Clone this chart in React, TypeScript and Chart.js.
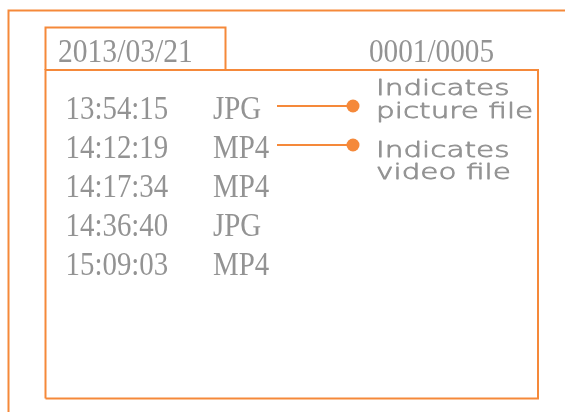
import React, { useEffect, useRef } from "react";
import { Chart, registerables } from "chart.js";

Chart.register(...registerables);

// ---- content ----
const dateLabel = "2013/03/21";
const counterLabel = "0001/0005";
const times = ["13:54:15", "14:12:19", "14:17:34", "14:36:40", "15:09:03"];
const fileTypes = ["JPG", "MP4", "MP4", "JPG", "MP4"];
const legendLines = [
  ["Indicates", "picture file"],
  ["Indicates", "video file"],
];
const legendRows = [0, 1]; // list row each legend points to

// ---- layout (scale units = screen units of the 565x412 frame) ----
const L = {
  outerLeft: 8.5,
  outerTop: 10.5,
  dateBox: { x0: 45.5, y0: 27.5, x1: 225.5, y1: 70 },
  listBox: { x0: 45.5, y0: 70, x1: 538, y1: 398.5 },
  headerBaseline: 62,
  dateX: 58,
  counterX: 369,
  timeX: 65.5,
  typeX: 213,
  rowBaseline0: 118.5,
  rowStep: 39,
  connectorOffset: -12.5,
  connectorX0: 277,
  connectorX1: 353,
  legendX: 376,
  legendBaselines: [
    [94.5, 118],
    [157, 179],
  ],
};

const ORANGE = "#F5893A";
const GRAY = "#939393";

const rowY = (i: number) => L.rowBaseline0 + i * L.rowStep;

export default function App() {
  const ref = useRef<HTMLCanvasElement | null>(null);

  useEffect(() => {
    if (!ref.current) return;

    const rect = (b: { x0: number; y0: number; x1: number; y1: number }) => [
      { x: b.x0, y: b.y1 },
      { x: b.x0, y: b.y0 },
      { x: b.x1, y: b.y0 },
      { x: b.x1, y: b.y1 },
      { x: b.x0, y: b.y1 },
    ];

    const frameDs = (data: { x: number; y: number }[]) => ({
      data,
      showLine: true,
      borderColor: ORANGE,
      borderWidth: 2,
      pointRadius: 0,
      fill: false,
      tension: 0,
    });

    const datasets: any[] = [
      frameDs([
        { x: L.outerLeft, y: 412 },
        { x: L.outerLeft, y: L.outerTop },
        { x: 565, y: L.outerTop },
      ]),
      frameDs(rect(L.dateBox).slice(0, 4)),
      frameDs(rect(L.listBox)),
      ...legendRows.map((r) => {
        const cy = rowY(r) + L.connectorOffset;
        return {
          data: [
            { x: L.connectorX0, y: cy },
            { x: L.connectorX1, y: cy },
          ],
          showLine: true,
          borderColor: ORANGE,
          borderWidth: 2,
          pointRadius: [0, 6.5],
          pointBackgroundColor: ORANGE,
          pointBorderColor: ORANGE,
          pointBorderWidth: 0,
        };
      }),
    ];

    const drawText = (
      ctx: CanvasRenderingContext2D,
      text: string,
      x: number,
      y: number,
      font: string,
      sx: number,
      strokeW = 0
    ) => {
      ctx.save();
      ctx.translate(x, y);
      ctx.scale(sx, 1);
      ctx.font = font;
      ctx.fillStyle = GRAY;
      ctx.textBaseline = "alphabetic";
      ctx.textAlign = "left";
      ctx.fillText(text, 0, 0);
      if (strokeW > 0) {
        ctx.strokeStyle = GRAY;
        ctx.lineWidth = strokeW;
        ctx.lineJoin = "round";
        ctx.strokeText(text, 0, 0);
      }
      ctx.restore();
    };

    const textPlugin = {
      id: "diagramText",
      afterDatasetsDraw(chart: any) {
        const ctx = chart.ctx as CanvasRenderingContext2D;
        const xs = chart.scales.x;
        const ys = chart.scales.y;
        const px = (v: number) => xs.getPixelForValue(v);
        const py = (v: number) => ys.getPixelForValue(v);
        const serif = "34px 'Liberation Serif'";
        const sserif = 0.85;
        drawText(ctx, dateLabel, px(L.dateX), py(L.headerBaseline), serif, 0.87);
        drawText(ctx, counterLabel, px(L.counterX), py(L.headerBaseline), serif, 0.86);
        times.forEach((t, i) => {
          drawText(ctx, t, px(L.timeX), py(rowY(i)), serif, sserif);
          drawText(ctx, fileTypes[i], px(L.typeX), py(rowY(i)), serif, sserif);
        });
        const sans = "200 22px 'DejaVu Sans'";
        legendLines.forEach((lines, k) => {
          lines.forEach((line, j) => {
            drawText(ctx, line, px(L.legendX), py(L.legendBaselines[k][j]), sans, 1.34, 0.8);
          });
        });
      },
    };

    const chart = new Chart(ref.current, {
      type: "scatter",
      data: { datasets },
      options: {
        animation: false,
        responsive: false,
        maintainAspectRatio: false,
        layout: { padding: 0, autoPadding: false },
        plugins: { legend: { display: false }, tooltip: { enabled: false } },
        scales: {
          x: { type: "linear", min: 0, max: 565, display: false },
          y: { type: "linear", min: 0, max: 412, reverse: true, display: false },
        },
        elements: { line: { fill: false } },
      },
      plugins: [textPlugin],
    } as any);

    return () => chart.destroy();
  }, []);

  return (
    <div style={{ position: "absolute", left: 0, top: 0, width: 565, height: 412, background: "#fff" }}>
      <canvas ref={ref} width={565} height={412} style={{ display: "block" }} />
    </div>
  );
}
